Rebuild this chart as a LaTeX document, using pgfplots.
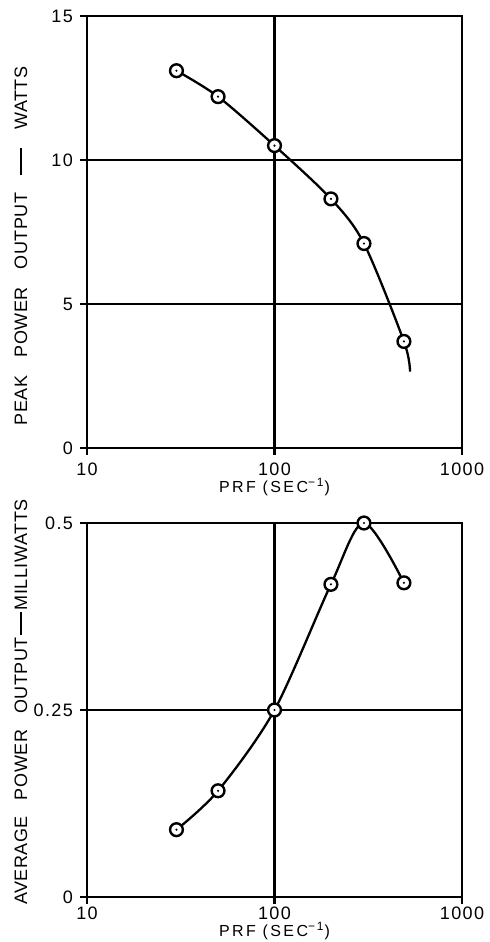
\documentclass[border=0pt]{standalone}
\usepackage{fontspec}
\setmainfont{Liberation Sans}
\usepackage{pgfplots}
\pgfplotsset{compat=1.18}

% open circle with a dot in the middle
\pgfdeclareplotmark{dotcirc}{%
  \pgfpathcircle{\pgfpointorigin}{\pgfplotmarksize}%
  \pgfusepathqfillstroke
  \pgfscope
  \pgfsetfillcolor{black}%
  \pgfpathcircle{\pgfpointorigin}{0.6pt}%
  \pgfusepathqfill
  \endpgfscope}

\newcommand\ticfont{\fontsize{9}{10}\selectfont\addfontfeatures{LetterSpace=8}}
\newcommand\xlabfont{\fontsize{8}{10}\selectfont\addfontfeatures{LetterSpace=15}}
\newcommand\ylabfont{\fontsize{9}{10}\selectfont\addfontfeatures{LetterSpace=3}}
\newcommand\dash[1]{\rule[2.7pt]{#1}{0.8pt}}

\pgfplotsset{
  prf/.style={
    width=187.5pt, scale only axis,
    xmin=10, xmax=1000,
    xtick={10,100,1000}, xticklabels={10,100,1000}, xminorticks=false, yminorticks=false,
    tick pos=left, tick align=outside, major tick length=3.5pt,
    grid=major, major grid style={black, line width=1.1pt},
    axis line style={line width=1.3pt},
    every tick/.style={black, line width=1.1pt},
    tick label style={font=\ticfont},
    /pgf/number format/assume math mode=true,
    xlabel={PRF (SEC\textsuperscript{−1})},
    xlabel style={font=\xlabfont, inner sep=0pt, at={(axis description cs:0.5,0)}, anchor=center},
    ylabel style={font=\ylabfont, anchor=center},
    clip=false,
  },
  curve/.style={black, line width=1.15pt, smooth, mark=dotcirc, mark size=3.2pt,
    mark options={fill=white, line width=1.2pt}},
}

\pgfplotstableread{
x y
30 13.1
50 12.2
100 10.5
200 8.65
300 7.1
490 3.7
528 2.65
}\peak

\pgfplotstableread{
x y
30 0.09
50 0.142
100 0.25
200 0.418
300 0.5
490 0.42
}\avg

\begin{document}
\begin{tikzpicture}
\useasboundingbox (-43.5pt,-22.5pt) rectangle (201pt,448.5pt);

% peak power
\begin{semilogxaxis}[prf, at={(0,224.5pt)}, anchor=south west,
  height=216pt, ymin=0, ymax=15, ytick={0,5,10,15},
  xticklabel style={yshift=-0.5pt},
  xlabel style={yshift=-19.5pt},
  ylabel={PEAK\hspace{9pt}POWER\hspace{9pt}OUTPUT\hspace{9pt}\dash{13.5pt}\hspace{9pt}WATTS},
  ylabel style={at={(axis description cs:-0.176,0.468)}},
]
\addplot[curve, mark indices={1,2,3,4,5,6}] table[x=x, y=y] {\peak};
\end{semilogxaxis}

% average power
\begin{semilogxaxis}[prf, at={(0,0)}, anchor=south west,
  height=187pt, ymin=0, ymax=0.5, ytick={0,0.25,0.5}, yticklabels={0,0.25,0.5},
  xticklabel style={inner sep=1pt, yshift=-0.2pt},
  xlabel style={yshift=-17pt},
  ylabel={AVERAGE\hspace{8pt}POWER\hspace{8pt}OUTPUT\hspace{1pt}\dash{11.5pt}\hspace{1pt}MILLIWATTS},
  ylabel style={at={(axis description cs:-0.176,0.521)}},
]
\addplot[curve] table[x=x, y=y] {\avg};
\end{semilogxaxis}
\end{tikzpicture}
\end{document}
